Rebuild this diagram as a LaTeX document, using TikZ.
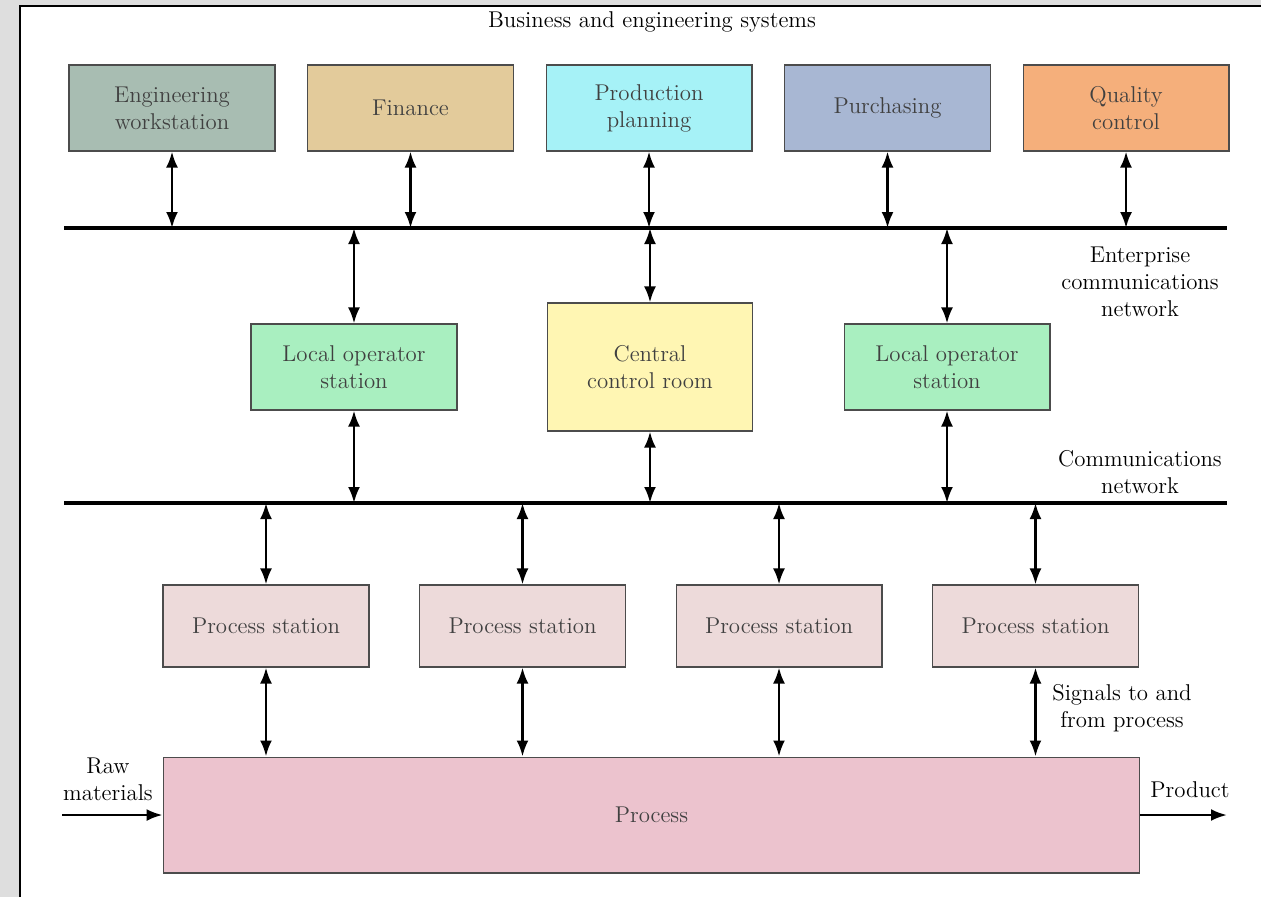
\documentclass[tikz,border=0pt]{standalone}
\usepackage{xcolor}
\usepackage{tikz}
\usetikzlibrary{positioning,calc,arrows.meta}
\definecolor{engFill}{RGB}{168,189,178}
\definecolor{finFill}{RGB}{227,203,155}
\definecolor{planFill}{RGB}{166,242,247}
\definecolor{purchFill}{RGB}{168,183,211}
\definecolor{qualFill}{RGB}{245,175,123}
\definecolor{localFill}{RGB}{169,239,192}
\definecolor{ctrlFill}{RGB}{255,246,179}
\definecolor{stationFill}{RGB}{237,218,218}
\definecolor{procFill}{RGB}{236,195,206}
\definecolor{outsideGray}{RGB}{222,222,222}
\tikzset{
  sysBox/.style={
    rectangle,
    draw=black!70,
    line width=0.6pt,
    text=black!75,
    minimum width=4.12cm,
    minimum height=1.72cm,
    align=center
  },
  stationBox/.style={
    sysBox,
    fill=stationFill,
    minimum height=1.64cm
  },
  busLine/.style={
    line width=1.8pt
  },
  biArrow/.style={
    {Latex[length=3.2mm,width=2.4mm]}-{Latex[length=3.2mm,width=2.4mm]},
    line width=1.5pt
  },
  arrowLine/.style={
    -{Latex[length=3.2mm,width=2.4mm]},
    line width=1.5pt
  },
  netLabel/.style={
    align=center
  }
}

\begin{document}
\begin{tikzpicture}[x=0.02cm, y=-0.02cm, font=\fontsize{13}{15.4}\selectfont]
        % frame
        \useasboundingbox (0,0) rectangle (1261,897);
        \fill[outsideGray] (0,0) rectangle (1261,897);
        \fill[white] (20,6) rectangle (1261,897);
        \draw[line width=1.6pt] (20,897) -- (20,6) -- (1261,6);

        \node (title) at (652,22) {Business and engineering systems};

        % business systems
        \node[sysBox, fill=engFill] (eng) at (172,108) {Engineering\\workstation};
        \node[sysBox, fill=finFill, right=0.63cm of eng] (finance) {Finance};
        \node[sysBox, fill=planFill, right=0.63cm of finance] (planning) {Production\\planning};
        \node[sysBox, fill=purchFill, right=0.63cm of planning] (purchasing) {Purchasing};
        \node[sysBox, fill=qualFill, right=0.63cm of purchasing] (quality) {Quality\\control};

        % networks
        \coordinate (entL) at (64,228);
        \coordinate (entR) at (1227,228);
        \coordinate (comL) at (64,503);
        \coordinate (comR) at (1227,503);
        \draw[busLine] (entL) -- (entR);
        \draw[busLine] (comL) -- (comR);
        \node[netLabel] (entLbl) at (1140,282) {Enterprise\\communications\\network};
        \node[netLabel] (comLbl) at (1140,472) {Communications\\network};

        % operator level
        \node[sysBox, fill=localFill] (localA) at (354,367) {Local operator\\station};
        \node[sysBox, fill=ctrlFill, minimum width=4.1cm, minimum height=2.56cm] (control) at (650,367) {Central\\control room};
        \node[sysBox, fill=localFill] (localB) at (947,367) {Local operator\\station};

        % process stations
        \node[stationBox] (ps1) at (266,626) {Process station};
        \node[stationBox, right=0.99cm of ps1] (ps2) {Process station};
        \node[stationBox, right=0.99cm of ps2] (ps3) {Process station};
        \node[stationBox, right=0.99cm of ps3] (ps4) {Process station};

        \node[sysBox, fill=procFill, minimum width=19.54cm, minimum height=2.32cm] (process) at (651.5,815) {Process};

        % connectors
        \foreach \b in {eng,finance,planning,purchasing,quality}
          \draw[biArrow] (\b.south) -- (\b.south |- entL);
        \foreach \b in {localA,control,localB} {
          \draw[biArrow] (\b.north) -- (\b.north |- entL);
          \draw[biArrow] (\b.south) -- (\b.south |- comL);
        }
        \foreach \b in {ps1,ps2,ps3,ps4} {
          \draw[biArrow] (\b.north) -- (\b.north |- comL);
          \draw[biArrow] (\b.south) -- (\b.south |- process.north);
        }

        \node[netLabel] (sigLbl) at (1122,708) {Signals to and\\from process};

        \coordinate (rawIn) at (62,815);
        \coordinate (prodOut) at (1227,815);
        \node[netLabel] (rawLbl) at (108,779) {Raw\\materials};
        \node (prodLbl) at (1190,790) {Product};
        \draw[arrowLine] (rawIn) -- (process.west);
        \draw[arrowLine] (process.east) -- (prodOut);
    \end{tikzpicture}
\end{document}
